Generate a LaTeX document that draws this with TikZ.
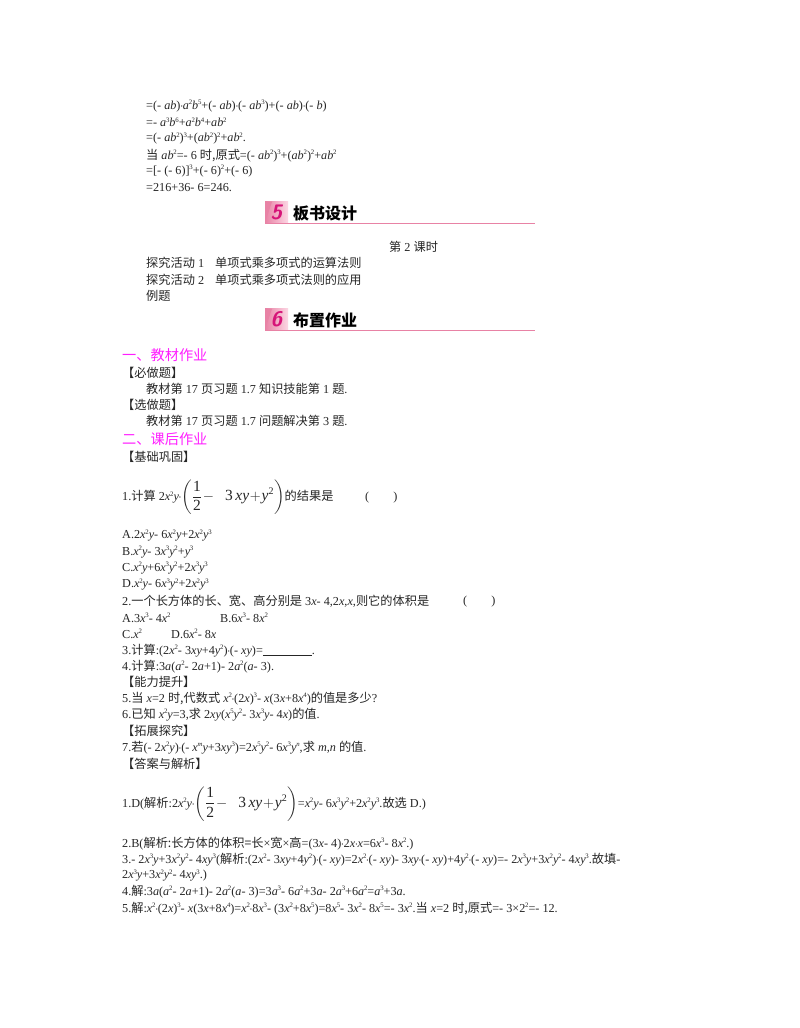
\documentclass[tikz,border=0pt]{standalone}
\usepackage{fontspec}
\usepackage{amsmath}
\setmainfont{Liberation Serif}
\newfontfamily\cjk{Noto Sans CJK SC}
\usetikzlibrary{positioning,shapes,calc}
\definecolor{rosepink}{RGB}{232,130,165}
\definecolor{lightpink}{RGB}{252,215,228}
\definecolor{deeppink}{RGB}{214,20,120}
\definecolor{headpink}{RGB}{255,30,255}
\newcommand{\zh}[1]{{\cjk #1}}
\newcommand{\vi}[1]{\textit{#1}}
\newcommand{\pw}[1]{\kern-0.2pt\raisebox{4.6pt}{\fontsize{6.8}{7}\selectfont #1}}
\newcommand{\mvi}[1]{\mbox{\textit{#1}}}
\newcommand{\dt}{\kern-0.5pt$\cdot$\kern-0.5pt}
\newcommand{\parenexpr}{{\fontsize{15.5}{18}\selectfont$\displaystyle\left(\frac{\mbox{1}}{\mbox{2}}\!-\;\;\mbox{3}\,\mvi{xy}\!+\!\mvi{y}^{\mbox{\fontsize{10}{10}\selectfont 2}}\vphantom{\rule[-9pt]{0pt}{26pt}}\right)$}}
\tikzset{
  txt/.style={anchor=west,inner sep=0pt,yshift=-0.7pt,font=\fontsize{12.2}{14}\selectfont,text=black!85},
  head/.style={anchor=west,inner sep=0pt,font=\fontsize{14.2}{16}\selectfont,text=headpink},
  title/.style={anchor=west,inner sep=0pt,font=\fontsize{16}{18}\selectfont\bfseries,text=black},
  badge/.style={inner sep=0pt,font=\fontsize{21}{24}\selectfont\sffamily\bfseries\itshape,text=deeppink},
  rule/.style={line width=0.7, color=rosepink},
}
\begin{document}
\begin{tikzpicture}[x=1pt,y=-1pt]
\useasboundingbox[fill=white] (0,0) rectangle (800,1028);
% top lines
\node[txt] (a1) at (146,105.5) {=(- \vi{ab})\dt\vi{a}\pw{2}\vi{b}\pw{5}+(- \vi{ab})\dt(- \vi{ab}\pw{3})+(- \vi{ab})\dt(- \vi{b})};
\node[txt] (a2) at (146,121.5) {=- \vi{a}\pw{3}\vi{b}\pw{6}+\vi{a}\pw{2}\vi{b}\pw{4}+\vi{ab}\pw{2}};
\node[txt] (a3) at (146,138) {=(- \vi{ab}\pw{2})\pw{3}+(\vi{ab}\pw{2})\pw{2}+\vi{ab}\pw{2}.};
\node[txt] (a4) at (146,155) {\zh{当} \vi{ab}\pw{2}=- 6 \zh{时,原式}=(- \vi{ab}\pw{2})\pw{3}+(\vi{ab}\pw{2})\pw{2}+\vi{ab}\pw{2}};
\node[txt] (a5) at (146,170.5) {=[- (- 6)]\pw{3}+(- 6)\pw{2}+(- 6)};
\node[txt] (a6) at (146,187) {=216+36- 6=246.};
% section 5
\fill[left color=rosepink,right color=lightpink] (265,201.5) rectangle (288,223);
\fill[rosepink] (265,223) -- (265,201.5) -- (272,201.5) -- cycle;
\node[badge] (n5) at (276.5,212) {5};
\node[title] (t5) at (293,213) {\zh{板书设计}};
\draw[rule] (265,223.2) -- (535,223.2);
\node[txt] (b0) at (389,246) {\zh{第} 2 \zh{课时}};
\node[txt] (b1) at (146,262.5) {\zh{探究活动} 1\hspace{11pt}\zh{单项式乘多项式的运算法则}};
\node[txt] (b2) at (146,279) {\zh{探究活动} 2\hspace{11pt}\zh{单项式乘多项式法则的应用}};
\node[txt] (b3) at (146,295) {\zh{例题}};
% section 6
\fill[left color=rosepink,right color=lightpink] (265,308.5) rectangle (288,330);
\fill[rosepink] (265,330) -- (265,308.5) -- (272,308.5) -- cycle;
\node[badge] (n6) at (276.5,319) {6};
\node[title] (t6) at (293,320) {\zh{布置作业}};
\draw[rule] (265,330.2) -- (535,330.2);
% homework
\node[head] (h1) at (122,355) {\zh{一、教材作业}};
\node[txt] (c1) at (122,372) {\zh{【必做题】}};
\node[txt] (c2) at (146,388) {\zh{教材第} 17 \zh{页习题} 1.7 \zh{知识技能第} 1 \zh{题}.};
\node[txt] (c3) at (122,404) {\zh{【选做题】}};
\node[txt] (c4) at (146,420.5) {\zh{教材第} 17 \zh{页习题} 1.7 \zh{问题解决第} 3 \zh{题}.};
\node[head] (h2) at (122,439) {\zh{二、课后作业}};
\node[txt] (c5) at (122,456) {\zh{【基础巩固】}};
\node[txt] (q1) at (122,496.5) {1.\zh{计算} 2\vi{x}\pw{2}\vi{y}\dt\parenexpr\zh{的结果是}};
\node[txt] (q1p) at (365,496.5) {(\hspace{24pt})};
\node[txt] (q1a) at (122,535) {A.2\vi{x}\pw{2}\vi{y}- 6\vi{x}\pw{2}\vi{y}+2\vi{x}\pw{2}\vi{y}\pw{3}};
\node[txt] (q1b) at (122,551.5) {B.\vi{x}\pw{2}\vi{y}- 3\vi{x}\pw{3}\vi{y}\pw{2}+\vi{y}\pw{3}};
\node[txt] (q1c) at (122,567.5) {C.\vi{x}\pw{2}\vi{y}+6\vi{x}\pw{3}\vi{y}\pw{2}+2\vi{x}\pw{3}\vi{y}\pw{3}};
\node[txt] (q1d) at (122,584) {D.\vi{x}\pw{2}\vi{y}- 6\vi{x}\pw{3}\vi{y}\pw{2}+2\vi{x}\pw{2}\vi{y}\pw{3}};
\node[txt] (q2) at (122,600.5) {2.\zh{一个长方体的长、宽、高分别是} 3\vi{x}- 4,2\vi{x},\vi{x},\zh{则它的体积是}};
\node[txt] (q2p) at (463,600.5) {(\hspace{24pt})};
\node[txt] (q2a) at (122,617) {A.3\vi{x}\pw{3}- 4\vi{x}\pw{2}};
\node[txt] (q2b) at (220,617) {B.6\vi{x}\pw{3}- 8\vi{x}\pw{2}};
\node[txt] (q2c) at (122,633) {C.\vi{x}\pw{2}};
\node[txt] (q2d) at (171,633) {D.6\vi{x}\pw{2}- 8\vi{x}};
\node[txt] (q3) at (122,649.5) {3.\zh{计算}:(2\vi{x}\pw{2}- 3\vi{xy}+4\vi{y}\pw{2})\dt(- \vi{xy})=\rule[-1.5pt]{49pt}{0.8pt}.};
\node[txt] (q4) at (122,665.5) {4.\zh{计算}:3\vi{a}(\vi{a}\pw{2}- 2\vi{a}+1)- 2\vi{a}\pw{2}(\vi{a}- 3).};
\node[txt] (c6) at (122,681.5) {\zh{【能力提升】}};
\node[txt] (q5) at (122,698) {5.\zh{当} \vi{x}=2 \zh{时,代数式} \vi{x}\pw{2}\dt(2\vi{x})\pw{3}- \vi{x}(3\vi{x}+8\vi{x}\pw{4})\zh{的值是多少}?};
\node[txt] (q6) at (122,714) {6.\zh{已知} \vi{x}\pw{2}\vi{y}=3,\zh{求} 2\vi{xy}(\vi{x}\pw{5}\vi{y}\pw{2}- 3\vi{x}\pw{3}\vi{y}- 4\vi{x})\zh{的值}.};
\node[txt] (c7) at (122,730) {\zh{【拓展探究】}};
\node[txt] (q7) at (122,746.5) {7.\zh{若}(- 2\vi{x}\pw{2}\vi{y})\dt(- \vi{x}\pw{\vi{m}}\vi{y}+3\vi{xy}\pw{3})=2\vi{x}\pw{5}\vi{y}\pw{2}- 6\vi{x}\pw{3}\vi{y}\pw{\vi{n}},\zh{求} \vi{m},\vi{n} \zh{的值}.};
\node[txt] (c8) at (122,763) {\zh{【答案与解析】}};
% answers
\node[txt] (r1) at (122,803) {1.D(\zh{解析}:2\vi{x}\pw{2}\vi{y}\dt\parenexpr=\vi{x}\pw{2}\vi{y}- 6\vi{x}\pw{3}\vi{y}\pw{2}+2\vi{x}\pw{2}\vi{y}\pw{3}.\zh{故选} D.)};
\node[txt] (r2) at (122,843) {2.B(\zh{解析:长方体的体积=长}×\zh{宽}×\zh{高}=(3\vi{x}- 4)\dt2\vi{x}\dt\vi{x}=6\vi{x}\pw{3}- 8\vi{x}\pw{2}.)};
\node[txt] (r3) at (122,859) {3.- 2\vi{x}\pw{3}\vi{y}+3\vi{x}\pw{2}\vi{y}\pw{2}- 4\vi{xy}\pw{3}(\zh{解析}:(2\vi{x}\pw{2}- 3\vi{xy}+4\vi{y}\pw{2})\dt(- \vi{xy})=2\vi{x}\pw{2}\dt(- \vi{xy})- 3\vi{xy}\dt(- \vi{xy})+4\vi{y}\pw{2}\dt(- \vi{xy})=- 2\vi{x}\pw{3}\vi{y}+3\vi{x}\pw{2}\vi{y}\pw{2}- 4\vi{xy}\pw{3}.\zh{故填}-};
\node[txt] (r3b) at (122,875) {2\vi{x}\pw{3}\vi{y}+3\vi{x}\pw{2}\vi{y}\pw{2}- 4\vi{xy}\pw{3}.)};
\node[txt] (r4) at (122,891) {4.\zh{解}:3\vi{a}(\vi{a}\pw{2}- 2\vi{a}+1)- 2\vi{a}\pw{2}(\vi{a}- 3)=3\vi{a}\pw{3}- 6\vi{a}\pw{2}+3\vi{a}- 2\vi{a}\pw{3}+6\vi{a}\pw{2}=\vi{a}\pw{3}+3\vi{a}.};
\node[txt] (r5) at (122,907.5) {5.\zh{解}:\vi{x}\pw{2}\dt(2\vi{x})\pw{3}- \vi{x}(3\vi{x}+8\vi{x}\pw{4})=\vi{x}\pw{2}\dt8\vi{x}\pw{3}- (3\vi{x}\pw{2}+8\vi{x}\pw{5})=8\vi{x}\pw{5}- 3\vi{x}\pw{2}- 8\vi{x}\pw{5}=- 3\vi{x}\pw{2}.\zh{当} \vi{x}=2 \zh{时,原式}=- 3×2\pw{2}=- 12.};
\end{tikzpicture}
\end{document}
